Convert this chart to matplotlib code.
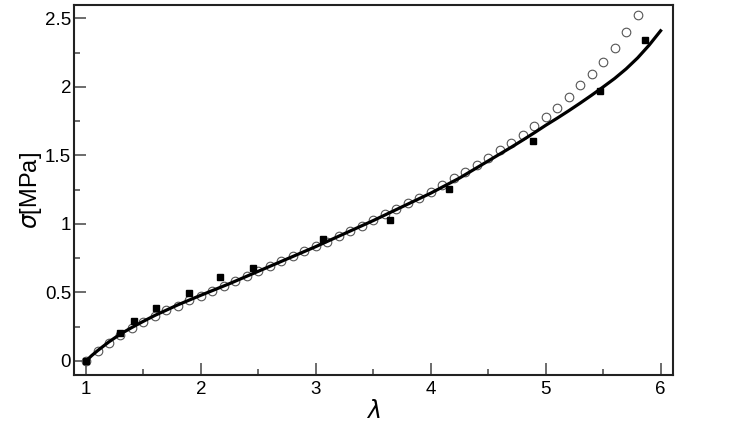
import matplotlib.pyplot as plt
import numpy as np

plt.rcParams['font.family'] = ['Liberation Sans', 'DejaVu Sans']

# model curve
lam_fit = [1.0, 1.05, 1.1, 1.2, 1.3, 1.4, 1.5, 1.6, 1.8, 2.0, 2.25, 2.5, 2.75,
           3.0, 3.25, 3.5, 3.75, 4.0, 4.25, 4.5, 4.6, 4.7, 4.8, 4.9, 5.0, 5.1,
           5.2, 5.3, 5.4, 5.5, 5.6, 5.7, 5.8, 5.9, 6.0]
sig_fit = [0.0, 0.04, 0.075, 0.14, 0.197, 0.245, 0.29, 0.333, 0.41, 0.48,
           0.565, 0.655, 0.745, 0.835, 0.93, 1.025, 1.125, 1.225, 1.335, 1.46,
           1.51, 1.56, 1.612, 1.665, 1.72, 1.772, 1.826, 1.882, 1.94, 2.0,
           2.062, 2.132, 2.212, 2.305, 2.41]

# open circles
lam_c = [1.0, 1.1, 1.2, 1.3, 1.4, 1.5, 1.6, 1.7, 1.8, 1.9, 2.0, 2.1, 2.2, 2.3,
         2.4, 2.5, 2.6, 2.7, 2.8, 2.9, 3.0, 3.1, 3.2, 3.3, 3.4, 3.5, 3.6, 3.7,
         3.8, 3.9, 4.0, 4.1, 4.2, 4.3, 4.4, 4.5, 4.6, 4.7, 4.8, 4.9, 5.0, 5.1,
         5.2, 5.3, 5.4, 5.5, 5.6, 5.7, 5.8]
sig_c = [0.0, 0.073, 0.134, 0.19, 0.238, 0.287, 0.331, 0.372, 0.404, 0.445,
         0.477, 0.513, 0.55, 0.586, 0.62, 0.658, 0.695, 0.73, 0.766, 0.805,
         0.837, 0.871, 0.912, 0.951, 0.988, 1.029, 1.073, 1.11, 1.151, 1.192,
         1.236, 1.285, 1.333, 1.382, 1.428, 1.484, 1.54, 1.594, 1.65, 1.715,
         1.779, 1.849, 1.93, 2.013, 2.096, 2.184, 2.287, 2.398, 2.526]

# filled squares (experiment)
lam_s = [1.0, 1.296, 1.418, 1.609, 1.90, 2.166, 2.453, 3.06, 3.646, 4.157,
         4.893, 5.473, 5.868]
sig_s = [0.0, 0.202, 0.292, 0.387, 0.494, 0.611, 0.677, 0.888, 1.031, 1.253,
         1.608, 1.971, 2.345]

fig = plt.figure(figsize=(7.47, 4.30), dpi=100)
ax = fig.add_axes([0.099, 0.128, 0.8015, 0.86])

ax.plot(lam_c, sig_c, 'o', ms=6.2, mfc='none', mec='#555555', mew=0.8, zorder=2)
ax.plot(lam_fit, sig_fit, '-', color='black', lw=2.3, zorder=3)
ax.plot(lam_s, sig_s, 's', ms=4.5, color='black', zorder=4)

ax.set_xlim(0.895, 6.105)
ax.set_ylim(-0.102, 2.597)

xt = [1, 2, 3, 4, 5, 6]
yt = [0, 0.5, 1, 1.5, 2, 2.5]
ax.set_xticks(xt)
ax.set_xticklabels([str(v) for v in xt])
ax.set_yticks(yt)
ax.set_yticklabels(['0', '0.5', '1', '1.5', '2', '2.5'])
ax.set_xticks(np.arange(1.5, 6, 1), minor=True)
ax.set_yticks(np.arange(0.25, 2.6, 0.5), minor=True)

ax.tick_params(which='major', direction='in', length=8.5, width=1.1,
               color='#444444', labelsize=13.5, pad=2)
ax.tick_params(which='minor', direction='in', length=4.2, width=1.1,
               color='#444444')
ax.tick_params(axis='x', which='major', pad=4)
for s in ax.spines.values():
    s.set_linewidth(1.5)
    s.set_color('#222222')

ax.set_xlabel(r'$\lambda$', fontsize=17, labelpad=2)
ax.set_ylabel(r'$\sigma$[MPa]', fontsize=17, labelpad=1)

fig.savefig('out.png', dpi=100)
